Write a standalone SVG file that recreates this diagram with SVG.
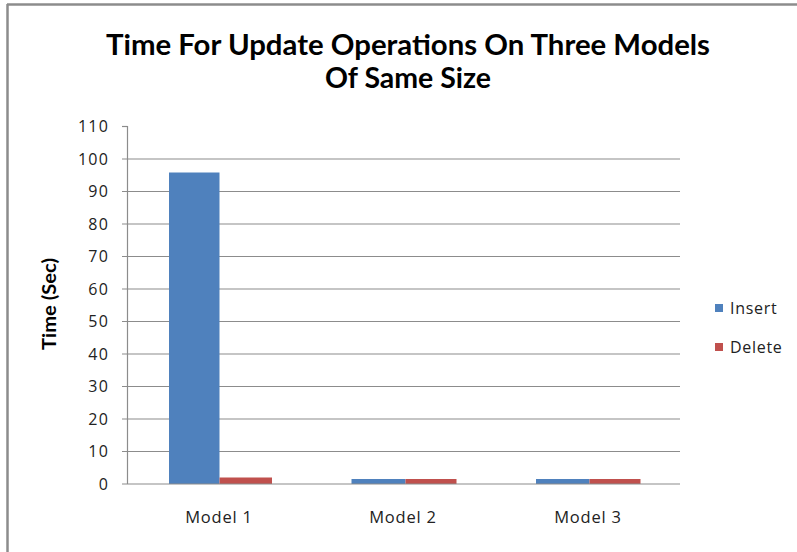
<svg xmlns="http://www.w3.org/2000/svg" width="797" height="552" viewBox="0 0 797 552">
<style>
.grid{stroke:#8c8c8c;stroke-width:1.2}
.tick{font-family:"Open Sans","Liberation Sans",sans-serif;font-size:16px;fill:#222;text-anchor:end;letter-spacing:1.2px}
.cat{font-family:"Open Sans","Liberation Sans",sans-serif;font-size:16.5px;fill:#222;text-anchor:middle;letter-spacing:0.8px}
.leg{font-family:"Open Sans","Liberation Sans",sans-serif;font-size:16px;fill:#222;letter-spacing:0.7px}
.title{font-family:Lato,"Liberation Sans",sans-serif;font-size:28px;font-weight:bold;fill:#000;text-anchor:middle}
.ins{fill:#4f81bd}
.del{fill:#c0504d}
</style>
<rect width="797" height="552" fill="#fff"/>
<g id="frame" stroke="#8c8c8c" stroke-width="2.5" fill="none">
<line x1="7" y1="4.5" x2="797" y2="4.5"/>
<line x1="7.5" y1="4" x2="7.5" y2="552"/>
</g>
<g id="title">
<text class="title" x="408" y="55" textLength="604" lengthAdjust="spacingAndGlyphs">Time For Update Operations On Three Models</text>
<text class="title" x="408" y="88" textLength="166" lengthAdjust="spacingAndGlyphs">Of Same Size</text>
</g>
<g id="gridlines">
<line class="grid" x1="122" y1="159" x2="680" y2="159"/>
<line class="grid" x1="122" y1="191.5" x2="680" y2="191.5"/>
<line class="grid" x1="122" y1="224" x2="680" y2="224"/>
<line class="grid" x1="122" y1="256.5" x2="680" y2="256.5"/>
<line class="grid" x1="122" y1="289" x2="680" y2="289"/>
<line class="grid" x1="122" y1="321.5" x2="680" y2="321.5"/>
<line class="grid" x1="122" y1="354" x2="680" y2="354"/>
<line class="grid" x1="122" y1="386.5" x2="680" y2="386.5"/>
<line class="grid" x1="122" y1="419" x2="680" y2="419"/>
<line class="grid" x1="122" y1="451.5" x2="680" y2="451.5"/>
<line class="grid" x1="122" y1="126.5" x2="127.5" y2="126.5"/>
</g>
<g id="ticks">
<text class="tick" x="109" y="132">110</text>
<text class="tick" x="109" y="164.5">100</text>
<text class="tick" x="109" y="197">90</text>
<text class="tick" x="109" y="229.5">80</text>
<text class="tick" x="109" y="262">70</text>
<text class="tick" x="109" y="294.5">60</text>
<text class="tick" x="109" y="327">50</text>
<text class="tick" x="109" y="359.5">40</text>
<text class="tick" x="109" y="392">30</text>
<text class="tick" x="109" y="424.5">20</text>
<text class="tick" x="109" y="457">10</text>
<text class="tick" x="109" y="489.5">0</text>
</g>
<g id="ylabel">
<text x="0" y="0" transform="translate(56,304) rotate(-90)" textLength="92" lengthAdjust="spacingAndGlyphs" style="font-family:Lato,'Liberation Sans',sans-serif;font-size:18px;font-weight:bold;fill:#000;text-anchor:middle">Time (Sec)</text>
</g>
<g id="bars">
<rect class="ins" x="169" y="172.5" width="50.5" height="311.5"/>
<rect class="del" x="219.5" y="477.5" width="52.5" height="6.5"/>
<rect class="ins" x="351.5" y="479" width="54" height="5"/>
<rect class="del" x="405.5" y="479" width="51" height="5"/>
<rect class="ins" x="536" y="479" width="53.5" height="5"/>
<rect class="del" x="589.5" y="479" width="51" height="5"/>
</g>
<g id="axes">
<line class="grid" x1="127.5" y1="126" x2="127.5" y2="484"/>
<line class="grid" x1="122" y1="484" x2="680" y2="484"/>
</g>
<g id="categories">
<text class="cat" x="219" y="523">Model 1</text>
<text class="cat" x="403" y="523">Model 2</text>
<text class="cat" x="588" y="523">Model 3</text>
</g>
<g id="legend">
<rect class="ins" x="715" y="304" width="8" height="8"/>
<text class="leg" x="730" y="314">Insert</text>
<rect class="del" x="715" y="343" width="8" height="8"/>
<text class="leg" x="730" y="353">Delete</text>
</g>
</svg>
